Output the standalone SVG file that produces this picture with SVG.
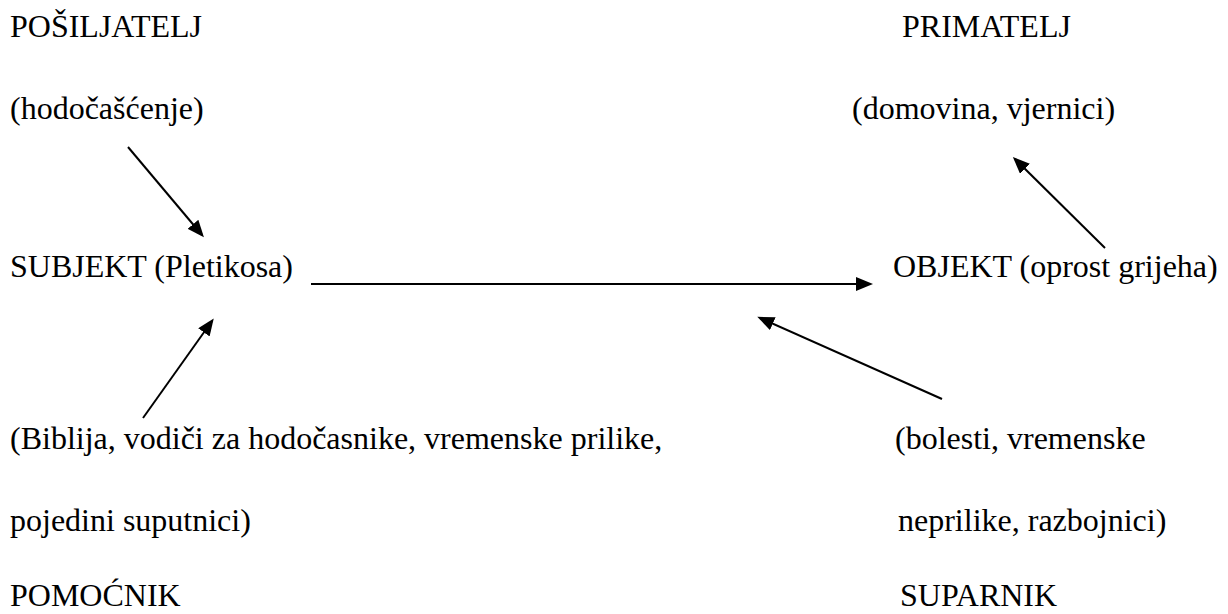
<svg xmlns="http://www.w3.org/2000/svg" width="1228" height="614" viewBox="0 0 1228 614">
<style>
text{font-family:"Liberation Serif","Times New Roman",serif;font-size:32px;fill:#000}
.c{stroke:#000;stroke-width:2;fill:none}
</style>
<defs>
<marker id="ah" markerUnits="userSpaceOnUse" markerWidth="17" markerHeight="14" refX="14" refY="7" orient="auto">
<path d="M0,0 L17,7 L0,14 z" fill="#000"/>
</marker>
</defs>
<rect width="1228" height="614" fill="#fff"/>
<g id="posiljatelj"><text x="10" y="37">POŠILJATELJ</text><text x="10" y="119">(hodočašćenje)</text></g>
<g id="primatelj"><text x="902" y="37">PRIMATELJ</text><text x="852" y="119">(domovina, vjernici)</text></g>
<g id="subjekt"><text x="10" y="277">SUBJEKT (Pletikosa)</text></g>
<g id="objekt"><text x="893" y="277">OBJEKT (oprost grijeha)</text></g>
<g id="pomocnik"><text x="10" y="449">(Biblija, vodiči za hodočasnike, vremenske prilike,</text><text x="10" y="531">pojedini suputnici)</text><text x="10" y="606">POMOĆNIK</text></g>
<g id="suparnik"><text x="895" y="449">(bolesti, vremenske</text><text x="898" y="531">neprilike, razbojnici)</text><text x="900" y="606">SUPARNIK</text></g>
<g id="connectors">
<line class="c" x1="128" y1="147" x2="202" y2="235" marker-end="url(#ah)"/>
<line class="c" x1="143" y1="418" x2="212" y2="321" marker-end="url(#ah)"/>
<line class="c" x1="311" y1="284" x2="870" y2="284" marker-end="url(#ah)"/>
<line class="c" x1="1105" y1="248" x2="1015" y2="159" marker-end="url(#ah)"/>
<line class="c" x1="942" y1="399" x2="760" y2="318" marker-end="url(#ah)"/>
</g>
</svg>
